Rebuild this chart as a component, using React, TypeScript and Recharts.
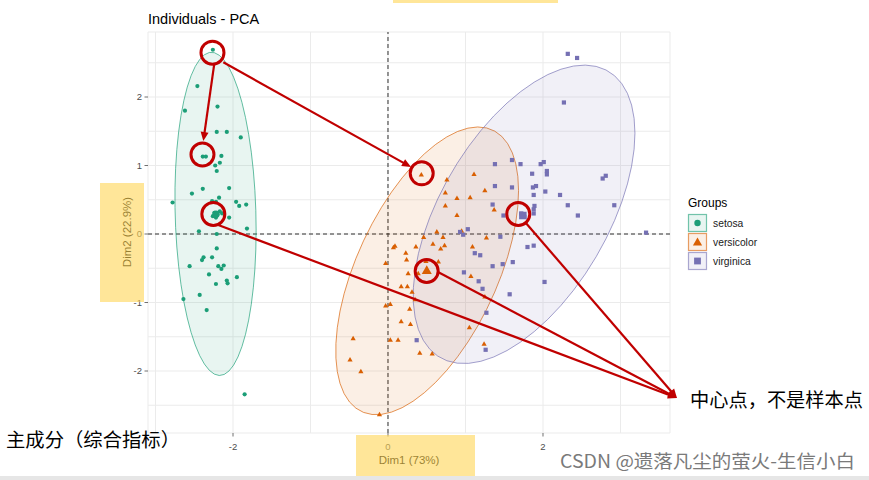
import React from 'react';
import { ScatterChart, Scatter, XAxis, YAxis, CartesianGrid, ReferenceLine, ReferenceDot } from 'recharts';

// ---------------- data ----------------
const groupNames = ['setosa', 'versicolor', 'virginica'];
const groupColors = ['#1B9E77', '#D95F02', '#7570B3'];

const setosaPoints: [number, number][] = [
  [-2.26, 2.69], [-2.46, 2.16], [-2.62, 1.80], [-2.20, 1.86], [-2.21, 1.49], [-2.08, 1.49], [-1.90, 1.41],
  [-2.39, 1.13], [-2.35, 1.13], [-2.15, 1.14], [-2.17, 1.04], [-2.23, 1.00], [-2.21, 0.92], [-2.05, 0.67],
  [-2.39, 0.66], [-2.53, 0.59], [-2.78, 0.46], [-2.27, 0.48], [-2.18, 0.53], [-2.22, 0.47], [-1.96, 0.47],
  [-1.92, 0.41], [-1.83, 0.43], [-2.24, 0.31], [-2.20, 0.28], [-2.17, 0.33], [-2.26, 0.26], [-2.14, 0.30],
  [-2.22, 0.24], [-2.05, 0.24], [-1.82, 0.08], [-2.44, 0.04], [-2.21, 0.00], [-2.21, -0.21], [-2.38, -0.34],
  [-2.40, -0.38], [-2.27, -0.34], [-2.56, -0.47], [-2.19, -0.47], [-2.15, -0.51], [-2.12, -0.46], [-2.31, -0.59],
  [-2.22, -0.73], [-2.08, -0.68], [-2.07, -0.72], [-1.95, -0.63], [-2.43, -0.89], [-2.64, -0.95], [-2.34, -1.11],
  [-1.85, -2.34],
];

const versicolorPoints: [number, number][] = [
  [0.43, 0.86], [0.76, 0.79], [1.11, 0.87], [0.74, 0.60], [0.89, 0.52], [1.06, 0.53], [1.25, 0.63],
  [0.74, 0.41], [0.89, 0.27], [1.37, 0.35], [0.63, 0.03], [0.46, -0.05], [0.71, -0.05], [0.58, -0.15],
  [0.73, -0.17], [0.68, -0.22], [0.09, -0.18], [0.07, -0.20], [0.36, -0.19], [1.09, -0.19], [1.27, -0.06],
  [0.23, -0.28], [0.24, -0.38], [-0.03, -0.43], [0.49, -0.40], [0.65, -0.41], [0.26, -0.58], [0.39, -0.58],
  [0.17, -0.77], [0.25, -0.77], [0.31, -0.85], [-0.03, -1.05], [0.03, -1.03], [0.28, -1.10], [0.35, -0.96],
  [1.07, -0.62], [0.17, -1.28], [0.29, -1.32], [1.25, -0.92], [1.05, -1.37], [-0.45, -1.53], [0.03, -1.55],
  [0.13, -1.55], [-0.49, -1.84], [-0.35, -2.01], [0.41, -1.74], [0.57, -1.75], [1.24, -1.61], [-0.11, -2.64],
  [0.95, 0.04],
];

const virginicaPoints: [number, number][] = [
  [2.27, 1.92], [1.38, 1.02], [1.60, 1.08], [1.71, 1.02], [1.97, 1.02], [2.01, 1.05], [1.86, 0.88],
  [2.05, 0.92], [2.05, 0.87], [1.38, 0.70], [1.60, 0.68], [1.87, 0.68], [1.91, 0.70], [1.88, 0.57],
  [2.03, 0.62], [2.22, 0.57], [2.77, 0.81], [2.81, 0.85], [1.35, 0.43], [1.89, 0.41], [1.88, 0.36],
  [2.32, 0.42], [2.92, 0.42], [1.49, 0.27], [1.88, 0.30], [2.45, 0.27], [1.03, 0.07], [0.93, 0.03],
  [0.97, -0.01], [1.45, -0.04], [3.33, 0.02], [1.80, -0.19], [1.88, -0.17], [1.12, -0.28], [1.19, -0.31],
  [1.61, -0.41], [1.48, -0.44], [1.35, -0.47], [0.98, -0.56], [1.17, -0.69], [2.02, -0.70], [1.22, -0.80],
  [1.57, -0.88], [1.27, -1.15], [0.37, -1.55], [1.26, -1.69], [2.32, 2.63], [2.44, 2.57], [1.72, 0.30],
  [1.76, 0.25],
];

const groupCenters: [number, number][] = [[-2.22, 0.29], [0.50, -0.54], [1.74, 0.27]];

const xTicks = [-3, -2, -1, 0, 1, 2, 3];
const xTickLabels = ['', '-2', '', '0', '', '2', ''];
const yTicks = [-2.5, -2, -1.5, -1, -0.5, 0, 0.5, 1, 1.5, 2, 2.5];
const yTickLabels = ['', '-2', '', '-1', '', '0', '', '1', '', '2', ''];

// annotations (data coordinates)
const circleMarks: [number, number][] = [
  [-2.265, 2.647], [-2.394, 1.161], [-2.254, 0.292], [0.435, 0.886], [0.499, -0.540], [1.681, 0.292],
];
const arrowFrom: [number, number][] = [
  [-2.241, 2.492], [-2.125, 2.507], [-2.19, 0.131], [0.645, -0.555], [1.768, 0.175],
];
const arrowTo: [number, number][] = [
  [-2.383, 1.358], [0.297, 0.978], [3.729, -2.394], [3.729, -2.394], [3.729, -2.394],
];

// ---------------- helpers ----------------
const toObjs = (pts: [number, number][]) => pts.map(([x, y]) => ({ x, y }));
const groupPoints = [setosaPoints, versicolorPoints, virginicaPoints];

// normal-theory 95% ellipse (as ggplot2::stat_ellipse(type = "norm"))
function ellipseOf(pts: [number, number][], level = 0.95, segments = 51) {
  const n = pts.length;
  const mx = pts.reduce((s, p) => s + p[0], 0) / n;
  const my = pts.reduce((s, p) => s + p[1], 0) / n;
  let sxx = 0, syy = 0, sxy = 0;
  pts.forEach(([x, y]) => { sxx += (x - mx) ** 2; syy += (y - my) ** 2; sxy += (x - mx) * (y - my); });
  sxx /= n - 1; syy /= n - 1; sxy /= n - 1;
  const dfd = n - 1;
  const fq = (dfd / 2) * (Math.pow(1 - level, -2 / dfd) - 1);
  const r = Math.sqrt(2 * fq);
  const a = Math.sqrt(sxx);
  const b = sxy / a;
  const c = Math.sqrt(Math.max(syy - b * b, 0));
  const out: { x: number; y: number }[] = [];
  for (let i = 0; i <= segments; i++) {
    const t = (i * 2 * Math.PI) / segments;
    const u = Math.cos(t), v = Math.sin(t);
    out.push({ x: mx + r * u * a, y: my + r * (u * b + v * c) });
  }
  return out;
}

const RED = '#C00000';

const dotShape = (color: string, r: number) => (p: any) => <circle cx={p.cx} cy={p.cy} r={r} fill={color} />;
const triShape = (color: string, s: number) => (p: any) => {
  const h = s * 0.866;
  return (
    <polygon
      points={`${p.cx},${p.cy - (h * 2) / 3} ${p.cx - s / 2},${p.cy + h / 3} ${p.cx + s / 2},${p.cy + h / 3}`}
      fill={color}
    />
  );
};
const sqShape = (color: string, s: number) => (p: any) => (
  <rect x={p.cx - s / 2} y={p.cy - s / 2} width={s} height={s} fill={color} />
);
const smallShapes = [dotShape(groupColors[0], 2.1), triShape(groupColors[1], 5.2), sqShape(groupColors[2], 4.2)];
const bigShapes = [dotShape(groupColors[0], 3.6), triShape(groupColors[1], 10), sqShape(groupColors[2], 7.5)];

const ellipseLine = (color: string) => (lp: any) => {
  const pts = lp.points || [];
  if (!pts.length) return <g />;
  const d = 'M' + pts.map((q: any) => `${q.x},${q.y}`).join('L') + 'Z';
  return <path d={d} fill={color} fillOpacity={0.1} stroke={color} strokeOpacity={0.85} strokeWidth={0.8} />;
};

const arrowShape = (p: any) => {
  const { x1, y1, x2, y2 } = p;
  const dx = x2 - x1, dy = y2 - y1;
  const L = Math.hypot(dx, dy) || 1;
  const ux = dx / L, uy = dy / L;
  const hl = 9, hw = 4;
  const bx = x2 - ux * hl, by = y2 - uy * hl;
  return (
    <g>
      <line x1={x1} y1={y1} x2={bx + ux * 2} y2={by + uy * 2} stroke={RED} strokeWidth={2.2} />
      <polygon points={`${x2},${y2} ${bx - uy * hw},${by + ux * hw} ${bx + uy * hw},${by - ux * hw}`} fill={RED} />
    </g>
  );
};

const renderXTick = (p: any) => {
  const i = xTicks.indexOf(p.payload.value);
  const lab = xTickLabels[i];
  if (!lab) return <g />;
  return (
    <g>
      <line x1={p.x} x2={p.x} y1={433} y2={436.5} stroke="#4D4D4D" strokeWidth={0.8} />
      <text x={p.x} y={450} textAnchor="middle" fontSize={9.5} fill="#4D4D4D" fontFamily='"Liberation Sans", Arial, sans-serif'>
        {lab}
      </text>
    </g>
  );
};
const renderYTick = (p: any) => {
  const i = yTicks.indexOf(p.payload.value);
  const lab = yTickLabels[i];
  if (!lab) return <g />;
  return (
    <g>
      <line x1={144.5} x2={148} y1={p.y} y2={p.y} stroke="#4D4D4D" strokeWidth={0.8} />
      <text x={142} y={p.y + 3.4} textAnchor="end" fontSize={9.5} fill="#4D4D4D" fontFamily='"Liberation Sans", Arial, sans-serif'>
        {lab}
      </text>
    </g>
  );
};

const FONT = '"Liberation Sans", Arial, sans-serif';
const CJK = '"Noto Sans CJK SC", sans-serif';

export default function App() {
  return (
    <div style={{ position: 'absolute', left: 0, top: 0, width: 869, height: 480, background: '#fff', overflow: 'hidden', fontFamily: FONT }}>
      <div style={{ position: 'absolute', left: 0, top: 0 }}>
        <ScatterChart width={869} height={480} margin={{ top: 32, right: 199, bottom: 0, left: 0 }}>
          <CartesianGrid stroke="#EBEBEB" strokeWidth={1} />
          <XAxis
            type="number" dataKey="x" domain={[-3.097, 3.639]} allowDataOverflow ticks={xTicks} interval={0}
            height={47} axisLine={false} tickLine={false} tickSize={0} tickMargin={0} tick={renderXTick}
          />
          <YAxis
            type="number" dataKey="y" domain={[-2.905, 2.949]} allowDataOverflow ticks={yTicks} interval={0}
            width={148} axisLine={false} tickLine={false} tickSize={0} tickMargin={0} tick={renderYTick}
          />
          <ReferenceLine x={0} stroke="#1a1a1a" strokeDasharray="4 3" strokeWidth={0.9} />
          <ReferenceLine y={0} stroke="#1a1a1a" strokeDasharray="4 3" strokeWidth={0.9} />
          {groupPoints.map((pts, gi) => (
            <Scatter
              key={'ell' + gi}
              name={groupNames[gi] + '-ellipse'}
              data={ellipseOf(pts)}
              isAnimationActive={false}
              shape={() => <g />}
              line={ellipseLine(groupColors[gi])}
              lineType="joint"
            />
          ))}
          {groupPoints.map((pts, gi) => (
            <Scatter
              key={'pts' + gi}
              name={groupNames[gi]}
              data={toObjs(pts)}
              isAnimationActive={false}
              shape={smallShapes[gi]}
            />
          ))}
          {groupCenters.map((c, gi) => (
            <Scatter
              key={'ctr' + gi}
              name={groupNames[gi] + '-center'}
              data={[{ x: c[0], y: c[1] }]}
              isAnimationActive={false}
              shape={bigShapes[gi]}
            />
          ))}
          {circleMarks.map((c, i) => (
            <ReferenceDot key={'c' + i} x={c[0]} y={c[1]} r={11.5} fill="none" stroke={RED} strokeWidth={3} ifOverflow="visible" zIndex={2000} />
          ))}
          {arrowFrom.map((f, i) => (
            <ReferenceLine
              key={'a' + i}
              segment={[{ x: f[0], y: f[1] }, { x: arrowTo[i][0], y: arrowTo[i][1] }]}
              stroke={RED}
              ifOverflow="visible"
              shape={arrowShape}
              zIndex={2000}
            />
          ))}
        </ScatterChart>
      </div>

      <svg width={869} height={480} style={{ position: 'absolute', left: 0, top: 0, pointerEvents: 'none' }}>
        <text x={148} y={24} fontSize={14.5} fill="#000" fontFamily={FONT}>Individuals - PCA</text>
        <text x={409} y={464} fontSize={11.5} fill="#000" textAnchor="middle" fontFamily={FONT}>Dim1 (73%)</text>
        <text transform="translate(131,232) rotate(-90)" fontSize={11.5} fill="#000" textAnchor="middle" fontFamily={FONT}>
          Dim2 (22.9%)
        </text>
        <text x={688} y={207} fontSize={12} fill="#000" fontFamily={FONT}>Groups</text>
        {groupNames.map((g, i) => {
          const top = 214.5 + 19 * i;
          const cx = 697.5, cy = top + 8.5;
          const col = groupColors[i];
          return (
            <g key={g}>
              <rect x={688.5} y={top} width={18} height={17} fill={col} fillOpacity={0.1} stroke={col} strokeOpacity={0.6} strokeWidth={1.2} />
              {i === 0 && <circle cx={cx} cy={cy} r={3.2} fill={col} />}
              {i === 1 && <polygon points={`${cx},${cy - 4.6} ${cx - 4.6},${cy + 3.4} ${cx + 4.6},${cy + 3.4}`} fill={col} />}
              {i === 2 && <rect x={cx - 3.4} y={cy - 3.4} width={6.8} height={6.8} fill={col} />}
              <text x={713} y={cy + 3.6} fontSize={10.3} fill="#1a1a1a" fontFamily={FONT}>{g}</text>
            </g>
          );
        })}
      </svg>

      {/* highlighter boxes */}
      <div style={{ position: 'absolute', left: 100, top: 183, width: 44, height: 119, background: 'rgba(255,213,85,0.6)' }} />
      <div style={{ position: 'absolute', left: 356, top: 435, width: 119, height: 41, background: 'rgba(255,213,85,0.6)' }} />
      <div style={{ position: 'absolute', left: 393, top: 0, width: 165, height: 3, background: 'rgba(255,213,85,0.6)' }} />
      <div style={{ position: 'absolute', left: 0, top: 476, width: 869, height: 4, background: '#E6E6E6' }} />

      <svg width={869} height={480} style={{ position: 'absolute', left: 0, top: 0, pointerEvents: 'none' }}>
        <text x={690} y={407} fontSize={19} fill="#000" fontFamily={CJK} textLength={173} lengthAdjust="spacingAndGlyphs">
          中心点，不是样本点
        </text>
        <text x={6} y={447} fontSize={19} fill="#000" fontFamily={CJK} textLength={174} lengthAdjust="spacingAndGlyphs">
          主成分（综合指标）
        </text>
        <text x={560} y={468} fontSize={18} fill="#7a7a7a" fontFamily={CJK} textLength={295} lengthAdjust="spacingAndGlyphs">
          CSDN @遗落凡尘的萤火-生信小白
        </text>
      </svg>
    </div>
  );
}
